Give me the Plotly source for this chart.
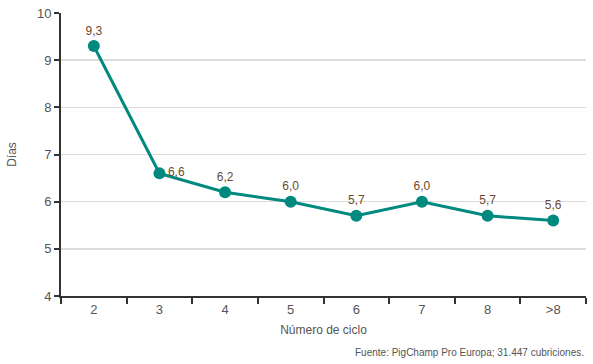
import plotly.graph_objects as go

categories = ["2", "3", "4", "5", "6", "7", "8", ">8"]
dias = [9.3, 6.6, 6.2, 6.0, 5.7, 6.0, 5.7, 5.6]
y_ticks = [4, 5, 6, 7, 8, 9, 10]

labels = [f"{v:.1f}".replace(".", ",") for v in dias]
positions = ["top center", "middle right"] + ["top center"] * 6

teal = "#00897f"
fig = go.Figure()
fig.add_trace(go.Scatter(
    x=categories, y=dias, mode="lines+markers+text",
    line=dict(color=teal, width=3),
    marker=dict(color=teal, size=12),
    text=labels, textposition=positions,
    textfont=dict(color="#6b4a30", size=12, family="Liberation Sans"),
    cliponaxis=False, showlegend=False, hoverinfo="skip",
))

fig.update_layout(
    width=593, height=364,
    margin=dict(l=61, r=7, t=13, b=68),
    plot_bgcolor="white", paper_bgcolor="white",
    font=dict(family="Liberation Sans", color="#555555", size=13),
    xaxis=dict(
        type="category", range=[-0.5, 7.5], automargin=False,
        tickson="boundaries", ticks="outside", ticklen=6, tickwidth=2, tickcolor="#333",
        showline=True, linecolor="#333", linewidth=2, showgrid=False,
        title=dict(text="Número de ciclo", font=dict(size=12, color="#555"), standoff=10),
        tickfont=dict(size=13, color="#555"),
    ),
    yaxis=dict(
        range=[4, 10], tickvals=y_ticks, automargin=False,
        ticks="outside", ticklen=5, tickwidth=2, tickcolor="#333",
        showline=True, linecolor="#333", linewidth=2,
        showgrid=True, gridcolor="#dcdcdc", gridwidth=1.5,
        zeroline=False,
        title=dict(text="Días", font=dict(size=12, color="#555"), standoff=18),
        tickfont=dict(size=13, color="#555"),
    ),
    annotations=[dict(
        text="Fuente: PigChamp Pro Europa; 31.447 cubriciones.",
        xref="paper", yref="paper", x=1, y=0, xanchor="right", yanchor="top",
        yshift=-49, showarrow=False, font=dict(size=10, color="#555"),
    )],
)

fig.write_html(
    "out.html",
    config={"displayModeBar": False, "staticPlot": True},
    post_script="document.body.style.margin='0';document.body.style.overflow='hidden';",
)
